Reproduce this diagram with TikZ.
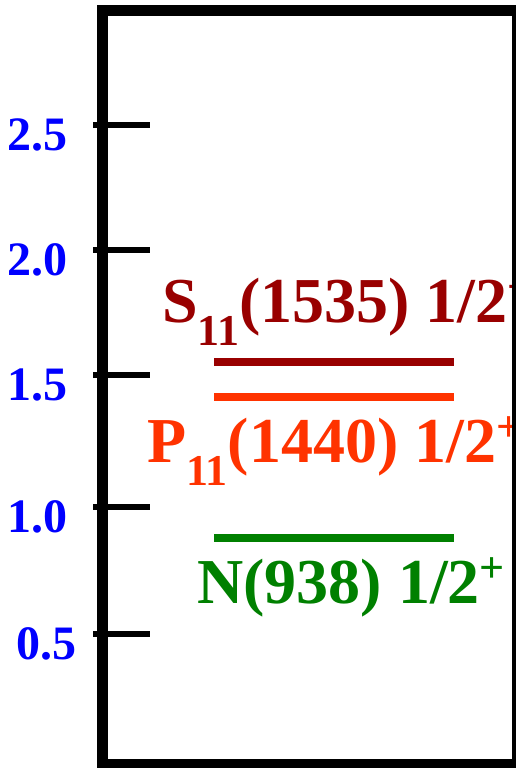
\documentclass[tikz,border=0pt]{standalone}
\usepackage{fontspec}
\setmainfont{Liberation Serif}
\usetikzlibrary{positioning}
\definecolor{sc}{RGB}{153,0,0}
\definecolor{pc}{RGB}{255,51,0}
\definecolor{nc}{RGB}{0,128,0}
\newcommand{\lo}[1]{\raisebox{-23pt}{\fontsize{44}{44}\selectfont #1}}
\newcommand{\hi}[1]{\raisebox{21pt}{\fontsize{44}{44}\selectfont #1}}
\tikzset{lvl/.style={line width=8.5pt},
 tk/.style={line width=6pt},
 frame/.style={line width=11pt},
 ax/.style={text=blue,font=\fontsize{48}{48}\selectfont\bfseries,anchor=base east,inner sep=0pt},
 st/.style={font=\fontsize{64}{64}\selectfont\bfseries,anchor=base west,inner sep=0pt}}

\begin{document}
\begin{tikzpicture}[x=1pt,y=-1pt]
\useasboundingbox (0,0) rectangle (515,768);
% axis ticks and labels
\foreach \v/\y/\x in {2.5/125/68,2.0/250/68,1.5/375/68,1.0/507/68,0.5/634/77}{
 \draw[tk] (93,\y)--(150,\y);
 \node[ax] (m\v) at (\x,\y+25) {\v};}
% levels
\draw[lvl,sc] (214,362)--(454,362);
\draw[lvl,pc] (214,397)--(454,397);
\draw[lvl,nc] (214,538)--(454,538);
\node[st,text=sc] (s11) at (162,322) {S\lo{11}(1535) 1/2\hi{−}};
\node[st,text=pc] (p11) at (147,462) {P\lo{11}(1440) 1/2\hi{+}};
\node[st,text=nc] (n) at (197,603) {N(938) 1/2\hi{+}};
% frame
\draw[frame] (102.5,10.5) rectangle (517,764.5);
\end{tikzpicture}
\end{document}
